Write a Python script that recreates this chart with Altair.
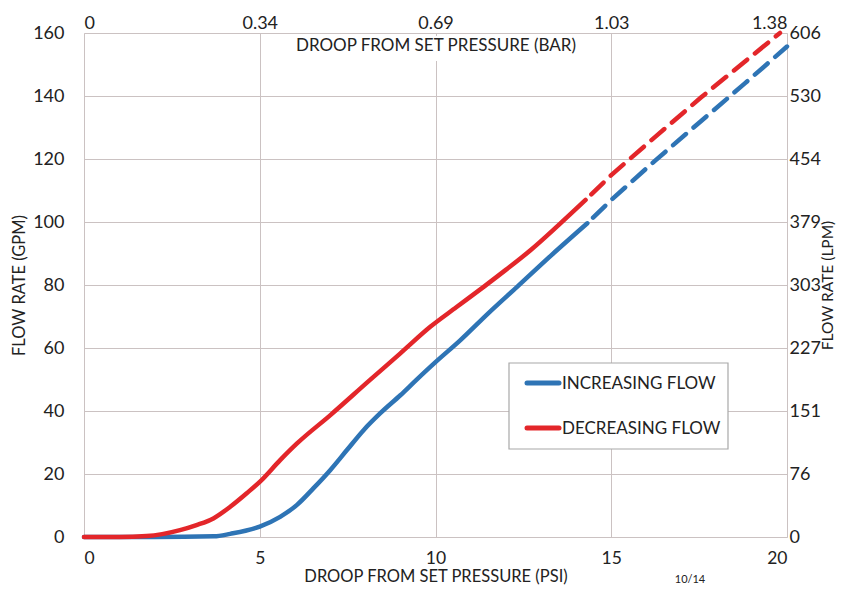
import json
import altair as alt
import pandas as pd

# ---- data ----
inc_x = [0, 2, 3.7, 4.16, 5.0, 5.58, 6.06, 6.53, 7.01, 7.48, 7.96, 8.43, 9.0, 9.45,
         10.0, 10.71, 11.5, 12.33, 13.3, 14.32]
inc_y = [0, 0, 0.2, 1.0, 3.3, 6.4, 10.2, 15.5, 21.3, 27.6, 34.0, 39.3, 45.0, 49.8,
         55.5, 62.5, 71.0, 79.5, 89.5, 99.6]
inc_dash_x = [14.32, 15.0, 16.25, 17.55, 18.8, 20.0]
inc_dash_y = [99.6, 107.0, 119.5, 132.0, 144.0, 155.7]

dec_x = [0, 1.0, 1.78, 2.73, 3.2, 3.68, 4.16, 4.63, 5.0, 5.58, 6.06, 7.01, 8.13, 9.0,
         9.86, 10.6, 11.38, 12.0, 12.71, 13.5, 14.27]
dec_y = [0, 0, 0.3, 2.2, 3.8, 5.9, 9.6, 13.9, 17.5, 24.4, 29.7, 38.7, 49.8, 58.3,
         66.8, 73.0, 79.5, 84.8, 91.1, 99.0, 107.0]
dec_dash_x = [14.27, 15.0, 16.3, 17.55, 18.7, 19.8]
dec_dash_y = [107.0, 114.9, 127.5, 139.5, 150.0, 160.0]

series_names = ["INCREASING FLOW", "DECREASING FLOW"]
series_colors = ["#2e74b5", "#e3262a"]

psi_ticks = [0, 5, 10, 15, 20]
bar_labels = ["0", "0.34", "0.69", "1.03", "1.38"]
gpm_ticks = [0, 20, 40, 60, 80, 100, 120, 140, 160]
lpm_labels = ["0", "76", "151", "227", "303", "379", "454", "530", "606"]

FONT = "Lato"
GRID = "#cbc2c2"
TXT = "#222222"

rows = []
for name, xs, ys, part in [
    (series_names[0], inc_x, inc_y, "solid"),
    (series_names[0], inc_dash_x, inc_dash_y, "dashed"),
    (series_names[1], dec_x, dec_y, "solid"),
    (series_names[1], dec_dash_x, dec_dash_y, "dashed"),
]:
    for i, (a, b) in enumerate(zip(xs, ys)):
        rows.append({"series": name, "psi": a, "gpm": b, "part": part, "order": i})
df = pd.DataFrame(rows)

xscale = alt.Scale(domain=[0, 20], nice=False, zero=True)
yscale = alt.Scale(domain=[0, 160], nice=False, zero=True)
color = alt.Color("series:N", scale=alt.Scale(domain=series_names, range=series_colors),
                  legend=None)

base = alt.Chart(df)

solid = base.transform_filter(alt.datum.part == "solid").mark_line(
    strokeWidth=4.5, interpolate="monotone", strokeCap="round"
).encode(
    x=alt.X("psi:Q", scale=xscale, axis=alt.Axis(
        orient="bottom", values=psi_ticks, grid=True, gridColor=GRID, domain=False,
        ticks=False, labelFontSize=17.5, labelFont=FONT, labelColor=TXT,
        labelPadding=12, title="DROOP FROM SET PRESSURE (PSI)", titleFontSize=16.5,
        titleFont=FONT, titleFontWeight="normal", titleColor=TXT, titlePadding=2)),
    y=alt.Y("gpm:Q", scale=yscale, axis=alt.Axis(
        orient="left", values=gpm_ticks, grid=True, gridColor=GRID, domain=False,
        ticks=False, labelFontSize=18, labelFont=FONT, labelColor=TXT,
        labelPadding=20, title="FLOW RATE (GPM)", titleFontSize=16.5, titleFont=FONT,
        titleFontWeight="normal", titleColor=TXT, titlePadding=5)),
    color=color,
    order="order:Q",
)

bar_expr = json.dumps(bar_labels) + "[round(datum.value/5)]"
lpm_expr = json.dumps(lpm_labels) + "[round(datum.value/20)]"

dashed = base.transform_filter(alt.datum.part == "dashed").mark_line(
    strokeWidth=4.5, strokeDash=[17, 10], strokeDashOffset=-8, strokeCap="round"
).encode(
    x=alt.X("psi:Q", scale=xscale, axis=alt.Axis(
        orient="top", values=psi_ticks, grid=False, domain=False, ticks=False,
        labelExpr=bar_expr, labelFontSize=18, labelFont=FONT, labelColor=TXT,
        labelPadding=1, title=None)),
    y=alt.Y("gpm:Q", scale=yscale, axis=alt.Axis(
        orient="right", values=gpm_ticks, grid=False, domain=False, ticks=False,
        labelExpr=lpm_expr, labelFontSize=18, labelFont=FONT, labelColor=TXT,
        labelPadding=2, title="FLOW RATE (LPM)", titleFontSize=15.5, titleFont=FONT,
        titleAngle=270, titleBaseline="top", titleFontWeight="normal",
        titleColor=TXT, titlePadding=0)),
    color=color,
    order="order:Q",
)

mask = alt.Chart(pd.DataFrame({"k": [0]})).mark_rect(color="white").encode(
    x=alt.value(205), x2=alt.value(500), y=alt.value(3), y2=alt.value(28)
)
top_title = alt.Chart(pd.DataFrame({"t": ["DROOP FROM SET PRESSURE (BAR)"]})).mark_text(
    font=FONT, fontSize=17, color=TXT, align="center", baseline="middle"
).encode(text="t:N", x=alt.value(352), y=alt.value(13))
stamp = alt.Chart(pd.DataFrame({"t": ["10/14"]})).mark_text(
    font=FONT, fontSize=11, color=TXT, align="center", baseline="middle"
).encode(text="t:N", x=alt.value(606), y=alt.value(547))

# ---- legend box drawn by hand ----
legend_box = alt.Chart(pd.DataFrame({"k": [0]})).mark_rect(
    fill="white", stroke="#a8a8a8", strokeWidth=1.2
).encode(x=alt.value(425), x2=alt.value(644), y=alt.value(330), y2=alt.value(416))

legend_layers = []
for name, col, ypix in zip(series_names, series_colors, [350, 395]):
    sym = alt.Chart(pd.DataFrame({"series": [name]})).mark_rule(
        color=col, strokeWidth=5, strokeCap="round"
    ).encode(x=alt.value(443), x2=alt.value(475), y=alt.value(ypix))
    lab = alt.Chart(pd.DataFrame({"series": [name]})).mark_text(
        font=FONT, fontSize=17, color=TXT, align="left", baseline="middle"
    ).encode(text="series:N", x=alt.value(478), y=alt.value(ypix + 1))
    legend_layers += [sym, lab]

chart = alt.layer(mask, top_title, stamp, solid, dashed, legend_box, *legend_layers).resolve_axis(
    x="independent", y="independent"
).properties(
    width=703, height=504,
    autosize=alt.AutoSizeParams(type="none"),
    padding={"left": 76, "top": 25, "right": 51, "bottom": 51},
).configure_view(stroke=None).configure(background="white")

chart.save("out.html", embed_options={"renderer": "svg", "actions": False})
